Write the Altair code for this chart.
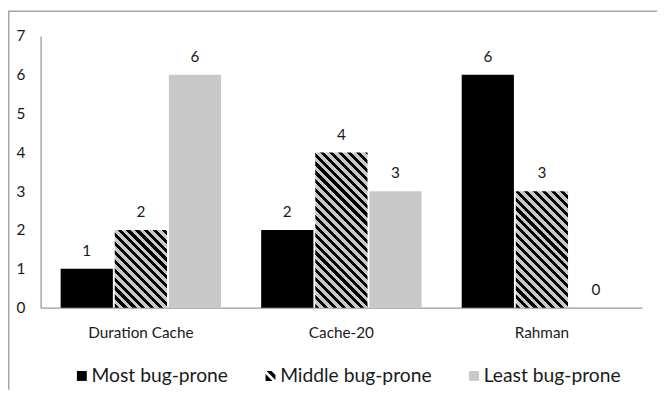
import altair as alt
import pandas as pd

# ---- data ----
categories = ["Duration Cache", "Cache-20", "Rahman"]
series = ["Most bug-prone", "Middle bug-prone", "Least bug-prone"]
most = [1, 2, 6]
middle = [2, 4, 3]
least = [6, 3, 0]
y_ticks = [0, 1, 2, 3, 4, 5, 6, 7]

rows = []
for i, c in enumerate(categories):
    for s, vals in zip(series, [most, middle, least]):
        rows.append({"category": c, "series": s, "value": vals[i]})
df = pd.DataFrame(rows)

# ---- layout / style ----
W, H = 609, 275
PAD_L, PAD_T, PAD_R, PAD_B = 33, 26, 15, 83
YMAX = 7
BLACK = "#000000"
GRAY = "#c8c8c8"
AXIS = "#9a9a9a"
FRAME = "#a6a6a6"
TXT = "#1a1a1a"
FONT = "Lato"
FS = 15.5
PI, PO, PI_OFF = 0.2, 0.1, 0.035

step = W / (len(categories) - PI + 2 * PO)
group_w = step * (1 - PI)
bar_w = group_w / (len(series) - PI_OFF) * (1 - PI_OFF)


def hatch(w, h, period=9.0, dark=4.2):
    """Diagonal (top-left to bottom-right) black stripes on gray, as a gradient."""
    L = w + h
    k = L / (w * w + h * h)
    stops = []
    s = 0.0
    while s < L - 1e-9:
        a = s / L
        b = min(s + dark, L) / L
        c = min(s + period, L) / L
        stops += [(BLACK, a), (BLACK, b), (GRAY, b), (GRAY, c)]
        s += period
    return {
        "gradient": "linear",
        "x1": 0, "y1": 1, "x2": k * w, "y2": 1 - k * h,
        "stops": [{"color": col, "offset": round(off, 5)} for col, off in stops],
    }


x_enc = alt.X(
    "category:N", sort=categories,
    scale=alt.Scale(domain=categories, paddingInner=PI, paddingOuter=PO),
    axis=alt.Axis(title=None, labelAngle=0, ticks=False, domainColor=AXIS,
                  domainWidth=1.3, labelPadding=18, labelFontSize=FS,
                  labelFont=FONT, labelColor=TXT, grid=False),
)
xo_enc = alt.XOffset("series:N", sort=series,
                     scale=alt.Scale(domain=series, paddingInner=PI_OFF, paddingOuter=0))
y_enc = alt.Y(
    "value:Q", scale=alt.Scale(domain=[0, YMAX], nice=False),
    axis=alt.Axis(title=None, values=y_ticks, ticks=False, grid=False,
                  domainColor=AXIS, domainWidth=1.3, labelPadding=16,
                  labelFontSize=FS, labelFont=FONT, labelColor=TXT),
)

base = alt.Chart(df).encode(x=x_enc, xOffset=xo_enc, y=y_enc)

solid = base.transform_filter(alt.datum.series != series[1]).mark_bar().encode(
    color=alt.condition(alt.datum.series == series[0], alt.value(BLACK), alt.value(GRAY))
)

hatched_layers = []
for i, c in enumerate(categories):
    h_px = middle[i] * H / YMAX
    hatched_layers.append(
        base.transform_filter((alt.datum.series == series[1]) & (alt.datum.category == c))
        .mark_bar(fill=hatch(bar_w, h_px))
    )

labels = base.mark_text(dy=-18, baseline="middle", fontSize=FS, font=FONT, color=TXT).encode(
    text="value:Q"
)

STRIPES = "M-1,-0.4L-1,1L0.4,1Z M-0.8,-1L1,0.8L1,-0.2L0.2,-1Z"
leg = alt.Legend(orient="none", legendX=32, legendY=334, direction="horizontal",
                 title=None, symbolSize=100, labelFontSize=19.5, labelFont=FONT,
                 labelColor=TXT, labelOffset=0, columnPadding=33, symbolStrokeWidth=0)
legend_layer = alt.Chart(df).transform_filter("datum.value < 0").mark_point(filled=True, opacity=1).encode(
    color=alt.Color("series:N", sort=series,
                    scale=alt.Scale(domain=series, range=[BLACK, BLACK, GRAY]), legend=leg),
    shape=alt.Shape("series:N", sort=series,
                    scale=alt.Scale(domain=series, range=["square", STRIPES, "square"]), legend=leg),
)

one = pd.DataFrame({"a": [0]})
frame_top = alt.Chart(one).mark_rule(color=FRAME, strokeWidth=1.5).encode(
    x=alt.value(-PAD_L), x2=alt.value(W + PAD_R), y=alt.value(-PAD_T + 1)
)
frame_left = alt.Chart(one).mark_rule(color=FRAME, strokeWidth=1.5).encode(
    x=alt.value(-PAD_L + 0.75), y=alt.value(-PAD_T + 1), y2=alt.value(H + PAD_B)
)

chart = alt.layer(frame_top, frame_left, solid, *hatched_layers, labels, legend_layer).properties(
    width=W, height=H,
    autosize=alt.AutoSizeParams(type="none"),
    padding={"left": PAD_L, "top": PAD_T, "right": PAD_R, "bottom": PAD_B},
    background="white",
).configure_view(stroke=None)

chart.save("out.html", embed_options={"renderer": "svg", "actions": False})
